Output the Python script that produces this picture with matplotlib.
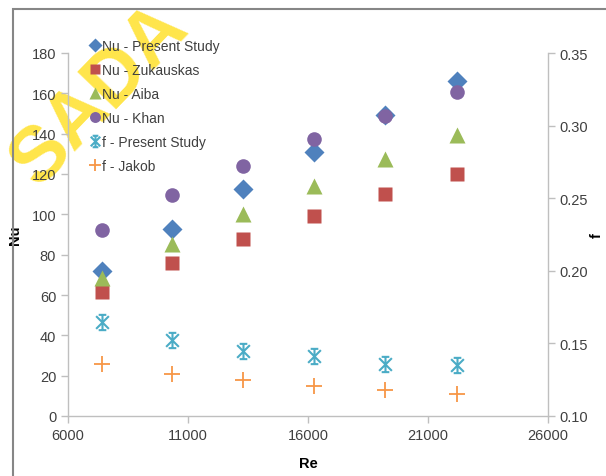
import matplotlib
matplotlib.use("Agg")
import matplotlib.pyplot as plt
from matplotlib.path import Path
from matplotlib.patches import Rectangle
from matplotlib.ticker import FormatStrFormatter

plt.rcParams['font.family'] = ['Liberation Sans', 'DejaVu Sans']

# ---- data ----
re_vals = [7400, 10350, 13300, 16250, 19200, 22200]
nu_present = [71.7, 92.9, 112.4, 131.0, 149.2, 166.1]
nu_zukauskas = [61.3, 75.7, 87.8, 99.3, 110.1, 120.0]
nu_aiba = [68.3, 85.3, 100.2, 114.2, 127.4, 139.3]
nu_khan = [92.2, 109.6, 124.1, 137.3, 148.9, 160.5]
f_present = [0.165, 0.152, 0.145, 0.141, 0.136, 0.135]
f_jakob = [0.136, 0.129, 0.125, 0.121, 0.118, 0.115]

labels = ["Nu - Present Study", "Nu - Zukauskas", "Nu - Aiba", "Nu - Khan",
          "f - Present Study", "f - Jakob"]
x_ticks = [6000, 11000, 16000, 21000, 26000]
nu_ticks = [0, 20, 40, 60, 80, 100, 120, 140, 160, 180]
f_ticks = [0.10, 0.15, 0.20, 0.25, 0.30, 0.35]

# Excel-style star marker: X + vertical line + caps
star = Path(
    [(-0.5, -0.5), (0.5, 0.5), (-0.5, 0.5), (0.5, -0.5), (0, -0.6), (0, 0.6),
     (-0.3, 0.6), (0.3, 0.6), (-0.3, -0.6), (0.3, -0.6)],
    [Path.MOVETO, Path.LINETO, Path.MOVETO, Path.LINETO, Path.MOVETO, Path.LINETO,
     Path.MOVETO, Path.LINETO, Path.MOVETO, Path.LINETO])

fig = plt.figure(figsize=(6.06, 4.77), dpi=100)

# watermark (behind the chart)
fig.text(100/606, 1-95/477, 'SADA', color='#FFE54A', fontsize=56, fontweight='bold',
         rotation=46, ha='center', va='center', zorder=-5)

ax = fig.add_axes([68/606, 1-417/477, (548-68)/606, (417-54)/477])
ax2 = ax.twinx()
ax.set_facecolor('none')
ax2.set_facecolor('none')

gray = '#868686'
txt = '#404040'

h1, = ax.plot(re_vals, nu_present, 'D', color='#4F81BD', ms=10, mec='none', label=labels[0], zorder=3)
h2, = ax.plot(re_vals, nu_zukauskas, 's', color='#C0504D', ms=10, mec='none', label=labels[1], zorder=4)
h3, = ax.plot(re_vals, nu_aiba, '^', color='#9BBB59', ms=11, mec='none', label=labels[2], zorder=5)
h4, = ax.plot(re_vals, nu_khan, 'o', color='#8064A2', ms=10.5, mec='none', label=labels[3], zorder=6)
h5, = ax2.plot(re_vals, f_present, ls='none', marker=star, color='#4BACC6', ms=11, mew=1.5,
               label=labels[4])
h6, = ax2.plot(re_vals, f_jakob, '+', color='#F79646', ms=11, mew=1.3, label=labels[5])

ax.set_xlim(6000, 26000)
ax.set_ylim(0, 180)
ax2.set_ylim(0.10, 0.35)
ax.set_xticks(x_ticks)
ax.set_yticks(nu_ticks)
ax2.set_yticks(f_ticks)
ax2.yaxis.set_major_formatter(FormatStrFormatter('%.2f'))

for a in (ax, ax2):
    a.spines['top'].set_visible(False)
    for s in a.spines.values():
        s.set_color('#BFBFBF')
        s.set_linewidth(1.0)
    a.tick_params(colors='#BFBFBF', labelcolor=txt, labelsize=10.5, length=5, width=1.0)
ax.spines['right'].set_visible(False)
ax2.spines['left'].set_visible(False)
ax2.spines['bottom'].set_visible(False)

ax.set_xlabel('Re', fontsize=10.5, fontweight='bold', color='black', labelpad=10)
ax.set_ylabel('Nu', fontsize=10.5, fontweight='bold', color='black')
ax2.set_ylabel('f', fontsize=10.5, fontweight='bold', color='black')
ax.yaxis.set_label_coords((22-68)/480, 0.5)
ax2.yaxis.set_label_coords((590-68)/480, 0.5)

leg = ax2.legend(handles=[h1, h2, h3, h4, h5, h6], loc='upper left',
                 bbox_to_anchor=(0.035, 1.055), frameon=False, fontsize=10,
                 handlelength=0.6, handletextpad=0.25, labelspacing=0.72,
                 markerscale=0.75, borderaxespad=0)
for t in leg.get_texts():
    t.set_color(txt)

# outer chart border (cropped at right and bottom)
fig.patches.append(Rectangle((13/606, -0.2), 1.2, 1-10/477+0.2,
                             transform=fig.transFigure, fill=False,
                             edgecolor=gray, linewidth=1.5))

fig.savefig('out.png', dpi=100)
